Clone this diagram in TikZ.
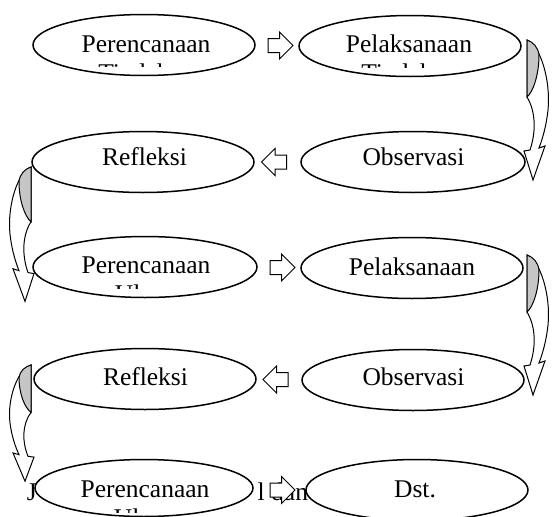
\documentclass[tikz,border=0pt]{standalone}
\usepackage{fontspec}
\setmainfont{Liberation Serif}
\usetikzlibrary{shapes.geometric,shapes.arrows,calc}
\begin{document}
\begin{tikzpicture}[x=1pt,y=-1pt,
  oval/.style={ellipse,draw,fill=white,line width=1.5pt,inner sep=0pt,outer sep=0pt,minimum width=222pt,minimum height=61pt},
  lbl/.style={anchor=base,inner sep=0pt,outer sep=0pt,font=\fontsize{25.5}{30}\selectfont},
  blkr/.style={single arrow,draw,fill=white,line width=1pt,inner sep=6.5pt,minimum height=25pt,single arrow head extend=6.5pt,outer sep=0pt},
  blkl/.style={blkr,shape border rotate=180},
  curv/.pic={
    \path[draw,fill=white,line width=1pt] (0,0) .. controls (13,5) and (24,40) .. (21,70) .. controls (19,88) and (15,100) .. (12,108) -- (18,106) -- (6,140) -- (-3,111) -- (3,110) .. controls (9,92) and (9,72) .. (0,57) -- cycle;
    \path[draw,fill=gray!45,line width=1pt] (0,0) -- (0,57) .. controls (6,52) and (12,35) .. (12,15) .. controls (11,7) and (6,2) .. (0,0) -- cycle;
  }]
\useasboundingbox (0,0) rectangle (552,517);
% stray text partly hidden behind the ovals
\node[lbl,anchor=base west] (s1) at (27,500) {J};
\node[lbl,anchor=base east] (s2) at (308,500) {l dan};
% ovals
\node[oval] (e1) at (144,45) {};
\node[oval] (e2) at (410,46) {};
\node[oval] (e3) at (143,162) {};
\node[oval,minimum width=224pt] (e4) at (413,162) {};
\node[oval,minimum width=224pt] (e5) at (145,267) {};
\node[oval] (e6) at (412,268) {};
\node[oval] (e7) at (145,379) {};
\node[oval] (e8) at (413,380) {};
\node[oval,minimum width=218pt,minimum height=57pt] (e9) at (144,488) {};
\node[oval] (e10) at (417,490) {};
% block arrows
\node[blkr] (a12) at ($(e1.east)!0.5!(e2.west)$) {};
\node[blkl] (a43) at ($(e3.east)!0.5!(e4.west)$) {};
\node[blkr] (a56) at ($(e5.east)!0.5!(e6.west)$) {};
\node[blkl] (a87) at ($(e7.east)!0.5!(e8.west)$) {};
\node[blkr] (a910) at (279,490) {};
% curved arrows
\pic (c24) at (527,40) {curv};
\pic[xscale=-1,yscale=0.96] (c35) at (31,167) {curv};
\pic (c68) at (527,255) {curv};
\pic[xscale=-1,yscale=0.83] (c79) at (31,365) {curv};
% labels
\node[lbl] (t1) at (146,52) {Perencanaan};
\begin{scope}\clip (40,40) rectangle (250,66.5); \node[lbl] (u1) at (146,81) {Tindakan}; \end{scope}
\node[lbl] (t2) at (409,52) {Pelaksanaan};
\begin{scope}\clip (305,40) rectangle (515,67); \node[lbl] (u2) at (409,81) {Tindakan}; \end{scope}
\node[lbl] (t3) at (144.5,165) {Refleksi};
\node[lbl] (t4) at (413.5,165) {Observasi};
\node[lbl] (t5) at (146,273) {Perencanaan};
\begin{scope}\clip (40,260) rectangle (250,288); \node[lbl] (u5) at (146,302) {Ulang}; \end{scope}
\node[lbl] (t6) at (412,275) {Pelaksanaan};
\node[lbl] (t7) at (145.5,385) {Refleksi};
\node[lbl] (t8) at (413.5,385) {Observasi};
\node[lbl] (t9) at (145,497) {Perencanaan};
\begin{scope}\clip (40,490) rectangle (250,512.5); \node[lbl] (u9) at (145,526) {Ulang}; \end{scope}
\node[lbl] (t10) at (415,497) {Dst.};
\end{tikzpicture}
\end{document}
